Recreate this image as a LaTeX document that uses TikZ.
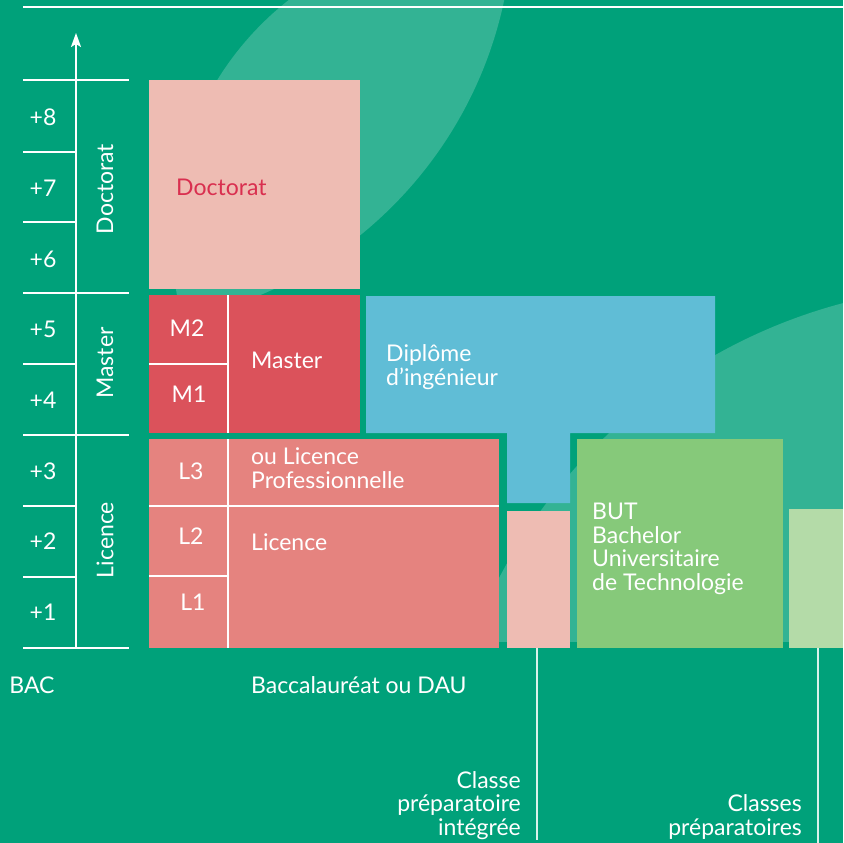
\documentclass[tikz,border=0pt]{standalone}
\usepackage{fontspec}
\setmainfont{Lato}
\usetikzlibrary{arrows.meta}
\definecolor{bggreen}{HTML}{00A17A}
\definecolor{docpink}{HTML}{EEBCB3}
\definecolor{mastred}{HTML}{DB525B}
\definecolor{licred}{HTML}{E5837F}
\definecolor{ingblue}{HTML}{60BDD6}
\definecolor{butgreen}{HTML}{86C97A}
\definecolor{prepgreen}{HTML}{B4DBA8}
\definecolor{doctext}{HTML}{D92F4F}
\begin{document}
\begin{tikzpicture}[x=1pt,y=-1pt,
    wline/.style={white,line width=1.8pt},
    thinw/.style={white,line width=1.3pt},
    lbl/.style={text=white,inner sep=0pt,font=\fontsize{23}{23.5}\selectfont},
    halo/.style={white,opacity=0.2}]
  \useasboundingbox (0,0) rectangle (843,843);
  % background and light shapes
  \fill[bggreen] (0,0) rectangle (843,843);
  \begin{scope}
    \clip (0,0) rectangle (843,843);
    \clip (477,240) circle (305pt);
    \fill[halo] (101,-85) circle (412pt);
  \end{scope}
  \begin{scope}
    \clip (0,0) rectangle (843,641);
    \fill[halo] (983,831) circle (546pt);
  \end{scope}
  \draw[thinw] (23,7) -- (843,7);

  % years axis
  \coordinate (axbot) at (76,648);
  \coordinate (axtop) at (76,33);
  \draw[wline,-{Stealth[length=14pt,width=10pt,inset=3pt]}] (axbot) -- (axtop);
  \foreach \y in {80,293,435,648} \draw[wline] (23,\y) -- (129,\y);
  \foreach \y in {152,222,364,506,577} \draw[wline] (23,\y) -- (76,\y);
  \foreach \i/\y in {8/117,7/188,6/259,5/329,4/400,3/471,2/541,1/612}
    \node[lbl] (yr\i) at (43,\y) {+\i};
  \node[lbl,rotate=90] (cycdoc) at (105,189) {Doctorat};
  \node[lbl,rotate=90] (cycmast) at (105,363) {Master};
  \node[lbl,rotate=90] (cyclic) at (105,540) {Licence};

  % boxes
  \fill[docpink] (149,80) rectangle (360,289);
  \fill[mastred] (149,295) rectangle (360,433);
  \fill[licred] (149,439) rectangle (499,648);
  \fill[ingblue] (366,296) -| (715,433) -| (570,503) -| (507,433) -| (366,296) -- cycle;
  \fill[docpink] (507,511) rectangle (570,648);
  \fill[butgreen] (577,439) rectangle (783,648);
  \fill[prepgreen] (789,509) rectangle (843,648);
  \draw[thinw] (228,295) -- (228,433);
  \draw[thinw] (149,364) -- (228,364);
  \draw[thinw] (228,439) -- (228,648);
  \draw[thinw] (149,506) -- (499,506);
  \draw[thinw] (149,576) -- (228,576);

  % box texts (base = last line)
  \node[lbl,text=doctext,anchor=base west] (doc) at (176,195) {Doctorat};
  \node[lbl] (m2) at (187,328) {M2};
  \node[lbl] (m1) at (189,394) {M1};
  \node[lbl,anchor=base west] (mast) at (251,368) {Master};
  \node[lbl] (l3) at (191,471) {L3};
  \node[lbl] (l2) at (191,536) {L2};
  \node[lbl] (l1) at (193,602) {L1};
  \node[lbl,anchor=base west,align=left] (lpro) at (251,488) {ou Licence\\Professionnelle};
  \node[lbl,anchor=base west] (lic) at (251,550) {Licence};
  \node[lbl,anchor=base west,align=left] (ing) at (386,385) {Diplôme\\d’ingénieur};
  \node[lbl,anchor=base west,align=left] (but) at (592,590) {BUT\\Bachelor\\Universitaire\\de Technologie};

  % bottom texts
  \node[lbl,anchor=base] (bac) at (32,693) {BAC};
  \node[lbl,anchor=base west] (bacdau) at (251,693) {Baccalauréat ou DAU};
  \node[lbl,anchor=base east,align=right] (cpi) at (521,835) {Classe\\préparatoire\\intégrée};
  \node[lbl,anchor=base east,align=right] (cpge) at (802,835) {Classes\\préparatoires};
  \coordinate (cpitop) at (537,648);
  \coordinate (cpibot) at (537,840);
  \coordinate (cpgetop) at (818,648);
  \coordinate (cpgebot) at (818,843);
  \draw[thinw,white!85!bggreen] (cpitop) -- (cpibot);
  \draw[thinw,white!85!bggreen] (cpgetop) -- (cpgebot);
\end{tikzpicture}
\end{document}
